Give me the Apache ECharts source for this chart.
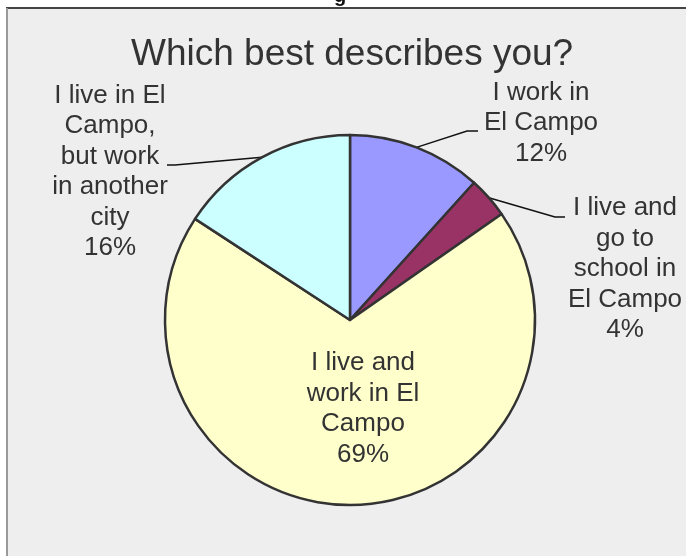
<!DOCTYPE html>
<html>
<head>
<meta charset="utf-8">
<script src="https://cdn.jsdelivr.net/npm/echarts@6/dist/echarts.min.js"></script>
<style>
html,body{margin:0;padding:0;background:#fff;}
#chart{width:686px;height:556px;}
</style>
</head>
<body>
<div id="chart"></div>
<script>
// ---- data ----
const titleText = 'Which best describes you?';
const categories = [
  'I work in El Campo',
  'I live and go to school in El Campo',
  'I live and work in El Campo',
  'I live in El Campo, but work in another city'
];
const values = [11.7, 3.6, 68.9, 15.8];
const labelTexts = [
  'I work in\nEl Campo',
  'I live and\ngo to\nschool in\nEl Campo',
  'I live and\nwork in El\nCampo',
  'I live in El\nCampo,\nbut work\nin another\ncity'
];
const colors = ['#9999ff', '#993366', '#ffffcc', '#ccffff'];

// ---- layout (label placement, Excel-like) ----
const CX = 350, CY = 320, R = 185;
const labelPos = [[541, 123], [625, 269], [363, 409], [110, 172]];
const lineMid = [[467, 131], [555, 217], null, [175, 165]];
const lineEnd = [[478, 131], [565, 217], null, [167, 165]];

const total = values.reduce((a, b) => a + b, 0);
function edgePoint(i) {
  let cum = 0;
  for (let k = 0; k < i; k++) cum += values[k];
  const mid = (cum + values[i] / 2) / total * Math.PI * 2;
  return [CX + R * Math.sin(mid), CY - R * Math.cos(mid)];
}

const chart = echarts.init(document.getElementById('chart'), null, {renderer: 'canvas'});
const fontFamily = '"Liberation Sans", Arial, sans-serif';

chart.setOption({
  animation: false,
  backgroundColor: '#ffffff',
  title: {
    text: titleText,
    left: 126,
    top: 31,
    textStyle: {
      color: '#333333',
      fontSize: 37,
      lineHeight: 37,
      fontWeight: 'normal',
      fontFamily: fontFamily
    }
  },
  graphic: [
    {type: 'rect', z: -10, shape: {x: 6, y: 8, width: 700, height: 560}, style: {fill: '#eeeeee'}},
    {type: 'line', z: -9, shape: {x1: 6, y1: 8, x2: 686, y2: 8}, style: {stroke: '#444444', lineWidth: 2}},
    {type: 'line', z: -9, shape: {x1: 7, y1: 8, x2: 7, y2: 556}, style: {stroke: '#999999', lineWidth: 2}},
    {type: 'text', z: -11, x: 334, y: -14, style: {text: 'g', fill: '#111111', font: 'bold 20px "Liberation Sans", Arial, sans-serif'}}
  ],
  series: [{
    type: 'pie',
    center: [CX, CY],
    radius: R,
    startAngle: 90,
    clockwise: true,
    avoidLabelOverlap: false,
    silent: true,
    itemStyle: {borderColor: '#333333', borderWidth: 2.5},
    label: {
      show: true,
      position: 'outside',
      color: '#333333',
      fontSize: 26,
      lineHeight: 30.5,
      fontFamily: fontFamily,
      align: 'center',
      formatter: function (p) {
        return labelTexts[p.dataIndex] + '\n' + Math.round(p.percent) + '%';
      }
    },
    labelLine: {
      show: true,
      length: 15,
      length2: 10,
      smooth: false,
      lineStyle: {color: '#111111', width: 1.5}
    },
    labelLayout: function (params) {
      const i = params.dataIndex;
      const p = labelPos[i];
      const res = {x: p[0], y: p[1], align: 'center', verticalAlign: 'middle'};
      if (lineMid[i]) {
        res.labelLinePoints = [edgePoint(i), lineMid[i], lineEnd[i]];
      }
      return res;
    },
    data: categories.map((name, i) => {
      const d = {name: name, value: values[i], itemStyle: {color: colors[i]}};
      if (i === 2) {
        d.label = {position: 'inside'};
        d.labelLine = {show: false};
      }
      return d;
    })
  }]
});
</script>
</body>
</html>
